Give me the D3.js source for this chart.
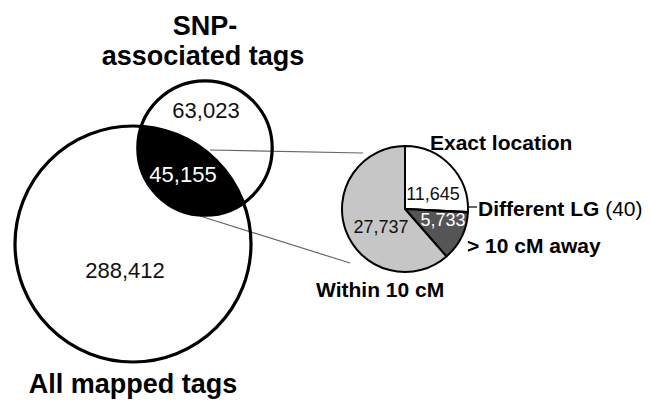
<!DOCTYPE html>
<html>
<head>
<meta charset="utf-8">
<script src="https://cdn.jsdelivr.net/npm/d3@7/dist/d3.min.js"></script>
<style>
  html, body { margin: 0; padding: 0; background: #fff; }
  svg { display: block; }
  text { font-family: "Liberation Sans", Arial, Helvetica, sans-serif; }
</style>
</head>
<body>
<svg id="chart" width="650" height="402"></svg>
<script>
// ---- data ----
const vennSets = ["All mapped tags", "SNP-associated tags"];
const vennOnly = [288412, 63023];      // only-big, only-small
const vennOverlap = 45155;              // intersection
const pieCategories = ["Exact location", "Different LG", "> 10 cM away", "Within 10 cM"];
const pieValues = [11645, 40, 5733, 27737];
const pieColors = ["#ffffff", "#ffffff", "#555555", "#c6c6c6"];

const fmt = d3.format(",");
const svg = d3.select("#chart");

// ---- venn circles (area proportional to set size) ----
const totals = [vennOnly[0] + vennOverlap, vennOnly[1] + vennOverlap];
const rScale = d3.scaleSqrt().domain([0, totals[0]]).range([0, 118]);
const circles = [
  { cx: 133, cy: 244, r: rScale(totals[0]) },
  { cx: 205, cy: 148, r: rScale(totals[1]) }
];

const defs = svg.append("defs");
defs.append("clipPath").attr("id", "clipBig")
  .append("circle").attr("cx", circles[0].cx).attr("cy", circles[0].cy).attr("r", circles[0].r);

// intersection lens
svg.append("circle")
  .attr("cx", circles[1].cx).attr("cy", circles[1].cy).attr("r", circles[1].r)
  .attr("clip-path", "url(#clipBig)")
  .attr("fill", "#000");

// connector lines
const connectors = [
  [[210, 150], [363, 153]],
  [[200, 216], [350, 263]]
];
svg.selectAll("line.conn").data(connectors).enter().append("line")
  .attr("class", "conn")
  .attr("x1", d => d[0][0]).attr("y1", d => d[0][1])
  .attr("x2", d => d[1][0]).attr("y2", d => d[1][1])
  .attr("stroke", "#666").attr("stroke-width", 1.2);

svg.selectAll("circle.set").data(circles).enter().append("circle")
  .attr("class", "set")
  .attr("cx", d => d.cx).attr("cy", d => d.cy).attr("r", d => d.r)
  .attr("fill", "none").attr("stroke", "#000").attr("stroke-width", 3.2);

// venn labels
const bold = "bold";
svg.append("text").attr("x", 205).attr("y", 35).attr("text-anchor", "middle")
  .attr("font-size", 27).attr("font-weight", bold).text("SNP-");
svg.append("text").attr("x", 203).attr("y", 65).attr("text-anchor", "middle")
  .attr("font-size", 27).attr("font-weight", bold).text("associated tags");
svg.append("text").attr("x", 133).attr("y", 393).attr("text-anchor", "middle")
  .attr("font-size", 27).attr("font-weight", bold).text(vennSets[0]);

svg.append("text").attr("x", 206).attr("y", 118).attr("text-anchor", "middle")
  .attr("font-size", 22).attr("fill", "#111").text(fmt(vennOnly[1]));
svg.append("text").attr("x", 183).attr("y", 182).attr("text-anchor", "middle")
  .attr("font-size", 22).attr("fill", "#fff").text(fmt(vennOverlap));
svg.append("text").attr("x", 125).attr("y", 278).attr("text-anchor", "middle")
  .attr("font-size", 22).attr("fill", "#111").text(fmt(vennOnly[0]));

// ---- pie ----
const pc = { x: 405, y: 209, r: 63 };
const pie = d3.pie().sort(null).value(d => d)(pieValues);
const arc = d3.arc().innerRadius(0).outerRadius(pc.r);
const pg = svg.append("g").attr("transform", `translate(${pc.x},${pc.y})`);
pg.selectAll("path").data(pie).enter().append("path")
  .attr("d", arc)
  .attr("fill", (d, i) => pieColors[i])
  .attr("stroke", "#000").attr("stroke-width", 2).attr("stroke-linejoin", "round");

// pie value labels
const pieValueLabels = [
  { i: 0, x: 433, y: 200, fill: "#111" },
  { i: 2, x: 443, y: 226, fill: "#fff" },
  { i: 3, x: 381, y: 233, fill: "#111" }
];
svg.selectAll("text.pv").data(pieValueLabels).enter().append("text")
  .attr("class", "pv")
  .attr("x", d => d.x).attr("y", d => d.y).attr("text-anchor", "middle")
  .attr("font-size", 18).attr("fill", d => d.fill)
  .text(d => fmt(pieValues[d.i]));

// pie category labels
svg.append("text").attr("x", 430).attr("y", 150)
  .attr("font-size", 21).attr("font-weight", bold).text(pieCategories[0]);
svg.append("line").attr("x1", pc.x + pc.r).attr("y1", 207).attr("x2", 477).attr("y2", 207)
  .attr("stroke", "#000").attr("stroke-width", 1.2);
const dl = svg.append("text").attr("x", 478).attr("y", 216).attr("font-size", 21);
dl.append("tspan").attr("font-weight", bold).text(pieCategories[1]);
dl.append("tspan").attr("font-weight", "normal").text(" (" + fmt(pieValues[1]) + ")");
svg.append("text").attr("x", 467).attr("y", 253)
  .attr("font-size", 21).attr("font-weight", bold).text(pieCategories[2]);
svg.append("text").attr("x", 316).attr("y", 297)
  .attr("font-size", 21).attr("font-weight", bold).text(pieCategories[3]);
</script>
</body>
</html>
